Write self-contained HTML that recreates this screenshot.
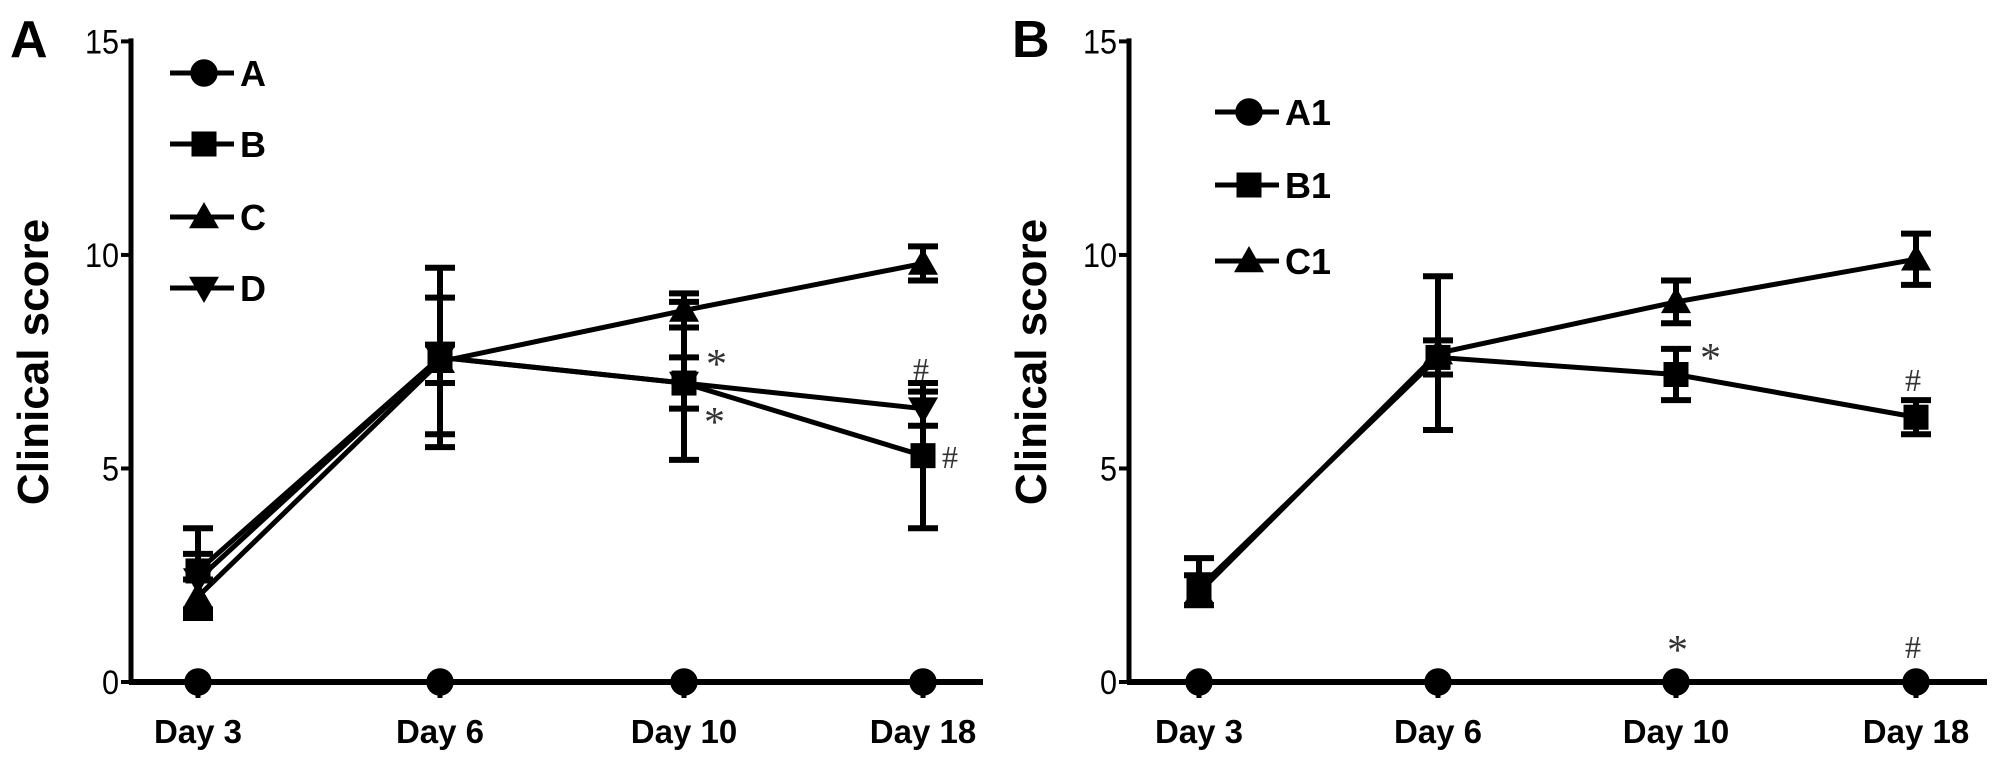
<!DOCTYPE html>
<html><head><meta charset="utf-8"><style>
html,body{margin:0;padding:0;background:#fff;}
svg{display:block;font-family:"Liberation Sans",sans-serif;}
</style></head><body>
<svg id="c" width="2008" height="764" xmlns="http://www.w3.org/2000/svg"></svg>
<script>
const categories=["Day 3","Day 6","Day 10","Day 18"];
const yTicks=[0,5,10,15];
// Panel A
const aNames=["A","B","C","D"];
const aMarkers=["circle","square","up","down"];
const aVals=[[0,0,0,0],[2.6,7.6,7.0,5.3],[2.0,7.5,8.7,9.8],[2.4,7.6,7.0,6.4]];
const aLo=[[0,0,0,0],[1.5,5.8,5.2,3.6],[1.6,5.5,8.3,9.4],[1.7,7.0,6.4,6.0]];
const aHi=[[0,0,0,0],[3.6,9.7,7.6,7.0],[2.4,9.0,9.1,10.2],[3.0,7.9,8.9,6.8]];
// Panel B
const bNames=["A1","B1","C1"];
const bMarkers=["circle","square","up"];
const bVals=[[0,0,0,0],[2.2,7.6,7.2,6.2],[2.1,7.7,8.9,9.9]];
const bLo=[[0,0,0,0],[1.8,5.9,6.6,5.8],[1.8,7.2,8.4,9.3]];
const bHi=[[0,0,0,0],[2.9,9.5,7.8,6.6],[2.5,8.0,9.4,10.5]];

const svg=document.getElementById('c');
const NS="http://www.w3.org/2000/svg";
function mk(tag,attrs,parent){const e=document.createElementNS(NS,tag);for(const k in attrs)e.setAttribute(k,attrs[k]);(parent||svg).appendChild(e);return e;}
function marker(g,type,x,y,s){
  if(type==="circle")return mk('circle',{cx:x,cy:y,r:s*0.55,fill:'#000'},g);
  if(type==="square")return mk('rect',{x:x-s/2,y:y-s/2,width:s,height:s,fill:'#000'},g);
  if(type==="up")return mk('polygon',{points:`${x},${y-s*0.6} ${x-s*0.6},${y+s*0.45} ${x+s*0.6},${y+s*0.45}`,fill:'#000'},g);
  return mk('polygon',{points:`${x},${y+s*0.6} ${x-s*0.6},${y-s*0.45} ${x+s*0.6},${y-s*0.45}`,fill:'#000'},g);
}
function panel(cfg){
  const g=mk('g',{});
  
  
  const y0=682,yTop=41.4;
  const ys=v=>y0-(y0-yTop)*v/15;
  const xs=i=>cfg.xs[i];
  const ax=mk('line',{x1:cfg.axX,y1:yTop-3,x2:cfg.axX,y2:y0+2,stroke:'#000','stroke-width':5},g);
  
  const bx=mk('line',{x1:cfg.axX-2,y1:y0,x2:cfg.axEnd,y2:y0,stroke:'#000','stroke-width':6},g);
  
  yTicks.forEach(t=>{
    const tk=mk('line',{x1:cfg.axX-10,y1:ys(t),x2:cfg.axX,y2:ys(t),stroke:'#000','stroke-width':4},g);
    
    const tl=mk('text',{x:cfg.axX-12,y:ys(t)+12,'text-anchor':'end','font-size':34,fill:'#000',transform:`translate(${(cfg.axX-12)*0.1},0) scale(0.9,1)`},g);
    tl.textContent=t;
    
  });
  categories.forEach((c,i)=>{
    const tk=mk('line',{x1:xs(i),y1:y0,x2:xs(i),y2:y0+16,stroke:'#000','stroke-width':5},g);
    
    const tl=mk('text',{x:xs(i),y:743,'text-anchor':'middle','font-size':33,'font-weight':'bold',fill:'#000'},g);
    tl.textContent=c;
    
  });
  const yt=mk('text',{x:0,y:0,'text-anchor':'middle','font-size':44,'font-weight':'bold',fill:'#000',transform:`translate(${cfg.titleX},362) rotate(-90)`},g);
  yt.textContent='Clinical score';
  
  const pl=mk('text',{x:cfg.letterX,y:57,'font-size':52,'font-weight':'bold',fill:'#000'},g);
  pl.textContent=cfg.letter;
  
  cfg.vals.forEach((vals,s)=>{
    const sg=mk('g',{},g);
    
    
    const pts=vals.map((v,i)=>`${xs(i)},${ys(v)}`).join(' ');
    mk('polyline',{points:pts,fill:'none',stroke:'#000','stroke-width':5},sg);
    vals.forEach((v,i)=>{
      if(cfg.hi[s][i]!==cfg.lo[s][i]){
        const eb=mk('path',{d:`M${xs(i)},${ys(cfg.lo[s][i])}V${ys(cfg.hi[s][i])}M${xs(i)-15},${ys(cfg.lo[s][i])}h30M${xs(i)-15},${ys(cfg.hi[s][i])}h30`,stroke:'#000','stroke-width':6,fill:'none'},sg);
        
      }
      const m=marker(sg,cfg.markers[s],xs(i),ys(v),25);
      
    });
  });
  cfg.names.forEach((n,s)=>{
    const ly=cfg.legY[s];
    const lg=mk('g',{},g);
    
    mk('line',{x1:cfg.legX,y1:ly,x2:cfg.legX+64,y2:ly,stroke:'#000','stroke-width':5},lg);
    marker(lg,cfg.markers[s],cfg.legX+34,ly,25);
    const t=mk('text',{x:cfg.legX+70,y:ly+13,'font-size':36,'font-weight':'bold',fill:'#000'},lg);
    t.textContent=n;
  });
  cfg.notes.forEach(n=>{
    const t=mk('text',{x:n[0],y:n[1],'font-size':n[3],fill:'#333','font-family':'Liberation Serif, serif'},g);
    t.textContent=n[2];
    
  });
}
panel({id:'panel-a',letter:'A',letterX:10,axX:131,axEnd:983,xs:[198,440,684,923],titleX:48,
  names:aNames,markers:aMarkers,vals:aVals,lo:aLo,hi:aHi,legX:170,legY:[73,144,217,288],
  notes:[[706,378,'*',42],[704,436,'*',42],[913,380,'#',32],[942,468,'#',32]]});
panel({id:'panel-b',letter:'B',letterX:1012,axX:1129,axEnd:1987,xs:[1199,1438,1676,1916],titleX:1046,
  names:bNames,markers:bMarkers,vals:bVals,lo:bLo,hi:bHi,legX:1215,legY:[112,185,261],
  notes:[[1700,372,'*',42],[1905,391,'#',32],[1667,664,'*',42],[1905,658,'#',32]]});
</script>
</body></html>
